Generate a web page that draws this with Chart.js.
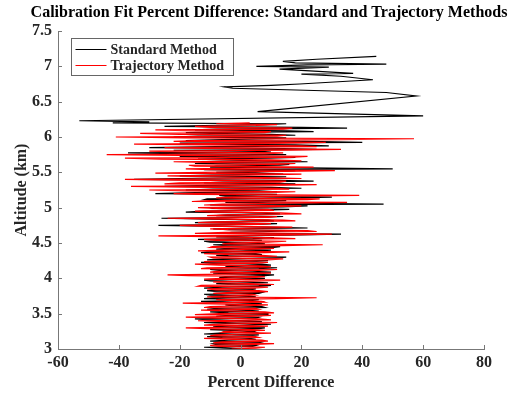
<!DOCTYPE html>
<html><head><meta charset="utf-8">
<script src="https://cdn.jsdelivr.net/npm/chart.js@4/dist/chart.umd.min.js"></script>
<style>html,body{margin:0;padding:0;background:#fff}#wrap{width:519px;height:396px}</style>
</head><body><div id="wrap"><canvas id="c" width="519" height="396"></canvas></div>
<script>
// ---- data ----
const altitudeKm = [3.000,3.025,3.050,3.075,3.100,3.125,3.150,3.175,3.200,3.225,3.250,3.275,3.300,3.325,3.350,3.375,3.400,3.425,3.450,3.475,3.500,3.525,3.550,3.575,3.600,3.625,3.650,3.675,3.700,3.725,3.750,3.775,3.800,3.825,3.850,3.875,3.900,3.925,3.950,3.975,4.000,4.025,4.050,4.075,4.100,4.125,4.150,4.175,4.200,4.225,4.250,4.275,4.300,4.325,4.350,4.375,4.400,4.425,4.450,4.475,4.500,4.525,4.550,4.575,4.600,4.625,4.650,4.675,4.700,4.725,4.750,4.775,4.800,4.825,4.850,4.875,4.900,4.925,4.950,4.975,5.000,5.025,5.050,5.075,5.100,5.125,5.150,5.175,5.200,5.225,5.250,5.275,5.300,5.325,5.350,5.375,5.400,5.425,5.450,5.475,5.500,5.525,5.550,5.575,5.600,5.625,5.650,5.675,5.700,5.725,5.750,5.775,5.800,5.825,5.850,5.875,5.900,5.925,5.950,5.975,6.000,6.025,6.050,6.075,6.100,6.125,6.150,6.175,6.200];

const midAltitudeKm = [3.0125,3.0375,3.0625,3.0875,3.1125,3.1375,3.1625,3.1875,3.2125,3.2375,3.2625,3.2875,3.3125,3.3375,3.3625,3.3875,3.4125,3.4375,3.4625,3.4875,3.5125,3.5375,3.5625,3.5875,3.6125,3.6375,3.6625,3.6875,3.7125,3.7375,3.7625,3.7875,3.8125,3.8375,3.8625,3.8875,3.9125,3.9375,3.9625,3.9875,4.0125,4.0375,4.0625,4.0875,4.1125,4.1375,4.1625,4.1875,4.2125,4.2375,4.2625,4.2875,4.3125,4.3375,4.3625,4.3875,4.4125,4.4375,4.4625,4.4875,4.5125,4.5375,4.5625,4.5875,4.6125,4.6375,4.6625,4.6875,4.7125,4.7375,4.7625,4.7875,4.8125,4.8375,4.8625,4.8875,4.9125,4.9375,4.9625,4.9875,5.0125,5.0375,5.0625,5.0875,5.1125,5.1375,5.1625,5.1875,5.2125,5.2375,5.2625,5.2875,5.3125,5.3375,5.3625,5.3875,5.4125,5.4375,5.4625,5.4875,5.5125,5.5375,5.5625,5.5875,5.6125,5.6375,5.6625,5.6875,5.7125,5.7375,5.7625,5.7875,5.8125,5.8375,5.8625,5.8875,5.9125,5.9375,5.9625,5.9875,6.0125,6.0375,6.0625,6.0875,6.1125,6.1375,6.1625,6.1875];

const standardValues = [
  2,-12,5,-9,7,-4,3,-11,6,-7,4,-10,
  8,-6,10,-12,3,-15,6,-4,
  9,-10,2,-8,7,-5,4,-13,6,-9,3,-12,
  7,-11,5,-6,10,-8,2,-12,8,-5,11,-9,
  4,-10,12,-3,7,-13,9,-6,15,-8,5,-11,10,-4,13,-9,
  6,-12,-14,11,-5,33,-3,18,-9,8,
  -27,12,-6,9,-26,14,-4,7,-12,16,
  -8,22,47,-5,15,-11,30,-7,-28,12,
  -18,20,-25,8,-12,24,-35,5,-20,14,
  -8,18,50,-10,13,-15,22,-6,9,-20,
  15,-37,6,25,-30,29,-12,40,-18,10,
  -22,18,-10,24,-15,35,-25,8,-42
];
const standardMidValues = [
  -5,4,-8,6,-10,5,-6,3,-12,5,-3,6,
  -9,4,-5,7,-10,5,-8,9,
  -4,6,-11,8,-3,7,-9,4,-12,5,-10,6,
  -8,3,-12,6,-4,9,-10,5,-7,8,-3,10,
  -7,6,-5,10,-9,4,-11,12,-4,7,-13,6,-8,11,-5,8,
  -10,7,4,-8,15,-6,10,-4,22,-11,
  5,-15,11,-10,6,-8,13,-18,5,-9,
  14,-10,20,9,-12,17,-5,12,-15,6,
  -9,10,-14,18,-6,12,-20,15,-10,5,
  12,-12,22,-8,16,-10,8,-14,18,-9,
  -15,10,-22,14,-8,18,-20,22,-6,15,
  -14,10,-18,16,-8,20,-12,15
];

const trajectoryValues = [
  -3,8,-10,11,-6,7,-12,5,-8,10,-5,4,
  -18,9,-9,12,-14,6,-18,10,
  -7,8,-13,5,-10,9,-19,7,-8,25,-6,4,
  -3,6,-11,9,-13,3,-9,13,-6,8,-24,10,
  -8,12,-11,6,-15,9,-4,14,-10,7,-12,16,-6,11,-9,27,
  -3,15,-12,8,-27,30,-5,22,-10,17,
  -20,10,-8,14,-24,12,-5,13,-15,9,
  -14,20,-6,35,-10,26,-3,39,-22,18,
  -30,12,-36,25,-20,15,-38,8,-24,20,
  -12,31,-18,24,-17,18,-22,10,-38,22,
  -44,14,-30,33,-25,20,-35,28,-15,57,
  -41,15,-33,10,-28,17,-15,12,3
];
const trajectoryMidValues = [
  5,-7,3,-9,9,-2,6,-10,2,-6,8,-11,
  4,-12,7,-5,10,-8,3,-15,
  11,-4,6,-12,3,-9,8,-5,12,-11,5,-9,
  9,-8,4,-14,11,-6,7,-12,5,-17,2,-10,
  6,-13,10,-7,4,-12,9,-9,12,-5,8,-14,3,-10,14,-6,
  9,-8,18,-6,12,-15,25,-4,10,-12,
  6,-14,18,-5,9,-11,20,-9,11,-6,
  8,-12,14,-16,22,-8,15,-14,10,-18,
  16,-9,10,-25,13,-15,20,-12,7,-28,
  14,-10,9,-15,12,-8,20,-26,16,-12,
  8,-20,16,-12,25,-10,13,-22,33,-18,
  12,-20,8,-15,14,-10,5,-8
];

const standardUpperAlt = [6.215,6.230,6.300,6.360,6.580,6.630,6.690,6.710,6.730,6.750,6.810,6.860,6.890,6.900,6.960,6.990,7.000,7.020,7.030,7.050,7.070,7.100,7.140];
const standardUpperValues = [-30,-53,60,5.6,57.7,47.9,-2.6,-5.3,10,19.4,43.5,33,20,37,12.8,29,5.2,22,47.9,18,13.9,25,44.6];

const xTickRange = {min:-60, max:80, step:20};
const yTickRange = {min:3, max:7.5, step:0.5};
const seriesLabels = ['Standard Method', 'Trajectory Method'];
const chartTitle = 'Calibration Fit Percent Difference: Standard and Trajectory Methods';
const xTitle = 'Percent Difference';
const yTitle = 'Altitude (km)';

// ---- build ----
const FONT = "'Liberation Serif','Times New Roman',serif";
const TXT = '#262626';
const AXIS = '#777777';

function interleave(mainAlt, mainVal, midAlt, midVal){
  const pts = [];
  for (let i = 0; i < mainAlt.length; i++){
    pts.push({x:mainVal[i], y:mainAlt[i]});
    if (i < midAlt.length) pts.push({x:midVal[i], y:midAlt[i]});
  }
  return pts;
}
const standardPoints = interleave(altitudeKm, standardValues, midAltitudeKm, standardMidValues)
  .concat(standardUpperAlt.map((a,i)=>({x:standardUpperValues[i], y:a})));
const trajectoryPoints = interleave(altitudeKm, trajectoryValues, midAltitudeKm, trajectoryMidValues);

const inwardTicks = {
  id:'inwardTicks',
  afterDatasetsDraw(chart){
    const {ctx, chartArea:a, scales:{x,y}} = chart;
    ctx.save();
    ctx.strokeStyle = AXIS; ctx.lineWidth = 1;
    ctx.beginPath();
    x.ticks.forEach(t=>{const px=Math.round(x.getPixelForValue(t.value))+0.5; ctx.moveTo(px,a.bottom); ctx.lineTo(px,a.bottom-4);});
    y.ticks.forEach(t=>{const py=Math.round(y.getPixelForValue(t.value))+0.5; ctx.moveTo(a.left,py); ctx.lineTo(a.left+4,py);});
    ctx.stroke();
    ctx.restore();
  }
};

const boxLegend = {
  id:'boxLegend',
  afterDatasetsDraw(chart){
    const {ctx, chartArea:a} = chart;
    const L = a.left + 13.5, T = a.top + 7.5, W = 162, H = 37;
    ctx.save();
    ctx.fillStyle = '#fff';
    ctx.fillRect(L, T, W, H);
    ctx.strokeStyle = '#666'; ctx.lineWidth = 1;
    ctx.strokeRect(L, T, W, H);
    ctx.font = "bold 14px " + FONT;
    ctx.textBaseline = 'middle';
    ctx.textAlign = 'left';
    const ds = chart.data.datasets;
    [0,1].forEach((i)=>{
      const yy = T + 10.5 + i*16;
      ctx.strokeStyle = ds[i].borderColor; ctx.lineWidth = 1;
      ctx.beginPath(); ctx.moveTo(L+4, Math.round(yy)+0.5); ctx.lineTo(L+35, Math.round(yy)+0.5); ctx.stroke();
      ctx.fillStyle = TXT;
      ctx.fillText(ds[i].label, L+39, yy+1);
    });
    ctx.restore();
  }
};

// Title drawn centred slightly right of the canvas centre, as in the reference
const wideTitle = {
  id:'wideTitle',
  afterDraw(chart){
    const ctx = chart.ctx;
    ctx.save();
    ctx.font = "bold 16px " + FONT;
    ctx.fillStyle = '#000';
    ctx.textAlign = 'center';
    ctx.textBaseline = 'middle';
    ctx.fillText(chartTitle, 269, 13);
    ctx.restore();
  }
};

new Chart(document.getElementById('c'), {
  type:'scatter',
  data:{datasets:[
    {label:seriesLabels[0], data:standardPoints, showLine:true, borderColor:'#000000', backgroundColor:'#000000', borderWidth:1.2, pointRadius:0, order:2},
    {label:seriesLabels[1], data:trajectoryPoints, showLine:true, borderColor:'#ff0000', backgroundColor:'#ff0000', borderWidth:1.2, pointRadius:0, order:1}
  ]},
  options:{
    responsive:false, animation:false, devicePixelRatio:1,
    layout:{padding:{left:0,right:35,top:31,bottom:0}},
    plugins:{
      legend:{display:false}, tooltip:{enabled:false}, title:{display:false}
    },
    scales:{
      x:{type:'linear', position:'bottom', min:xTickRange.min, max:xTickRange.max,
        ticks:{stepSize:xTickRange.step, color:TXT, font:{family:FONT,size:16,weight:'bold'}, padding:4, maxRotation:0},
        grid:{display:true, drawOnChartArea:false, drawTicks:false},
        border:{display:true, color:AXIS, width:1},
        title:{display:true, text:xTitle, color:TXT, font:{family:FONT,size:16,weight:'bold'}, padding:{top:0,bottom:4}},
        afterFit(s){ s.height = 47; }
      },
      y:{type:'linear', position:'left', min:yTickRange.min, max:yTickRange.max,
        ticks:{stepSize:yTickRange.step, color:TXT, font:{family:FONT,size:16,weight:'bold'}, padding:6, callback:(v)=>String(v)},
        grid:{display:true, drawOnChartArea:false, drawTicks:false},
        border:{display:true, color:AXIS, width:1},
        title:{display:true, text:yTitle, color:TXT, font:{family:FONT,size:16,weight:'bold'}, padding:{top:12,bottom:0}},
        afterFit(s){ s.width = 58; }
      }
    }
  },
  plugins:[inwardTicks, boxLegend, wideTitle]
});
</script></body></html>
